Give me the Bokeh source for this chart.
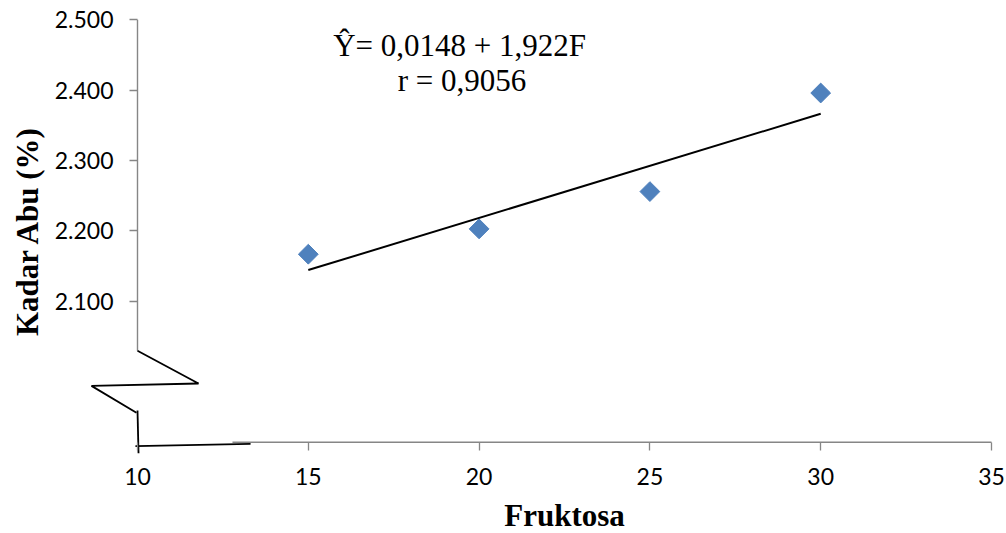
import numpy as np
from bokeh.plotting import figure
from bokeh.models import FixedTicker, NumeralTickFormatter, Label, Range1d
from bokeh.embed import file_html
from bokeh.resources import INLINE

# ---- data ----
fruktosa = [15, 20, 25, 30]
kadar_abu = [2.167, 2.203, 2.256, 2.396]
x_ticks = [10, 15, 20, 25, 30, 35]
y_ticks = [2.1, 2.2, 2.3, 2.4, 2.5]
equation_text = "Ŷ= 0,0148 + 1,922F"
r_text = "r = 0,9056"
x_title = "Fruktosa"
y_title = "Kadar Abu (%)"

# axis-break decoration (data units)
x_origin, y_origin = 10, 1.9
yaxis_top, yaxis_break = 2.5, 2.030
xaxis_break, xaxis_end = 12.78, 35
zig_x = [10.0, 11.786, 8.653, 9.97]
zig_y = [2.030, 1.9834, 1.980, 1.9418]
vert_x = [10.0, 10.03]
vert_y = [1.945, 1.8844]
horiz_x = [9.94, 13.31]
horiz_y = [1.8943, 1.8977]

AXIS = "#868686"
BLUE = "#4F81BD"

p = figure(width=1006, height=533, output_backend="svg", toolbar_location=None,
           x_range=Range1d(5.9895, 35.4391), y_range=Range1d(1.77031, 2.52741),
           min_border_left=0, min_border_right=0, min_border_top=0,
           min_border_bottom=0)
p.outline_line_color = None
p.xgrid.visible = False
p.ygrid.visible = False

for ax in (p.xaxis, p.yaxis):
    ax.axis_line_color = None
    ax.major_tick_line_color = AXIS
    ax.major_tick_line_width = 1.3
    ax.major_tick_out = 8
    ax.major_tick_in = 0
    ax.minor_tick_line_color = None
    ax.major_label_text_font = "Lato"
    ax.major_label_text_font_size = "23px"
    ax.major_label_text_color = "#000000"

p.xaxis.ticker = FixedTicker(ticks=x_ticks)
p.yaxis.ticker = FixedTicker(ticks=y_ticks)
p.yaxis.formatter = NumeralTickFormatter(format="0.000")
p.xaxis.fixed_location = y_origin
p.yaxis.fixed_location = x_origin
p.xaxis.major_label_standoff = 18
p.yaxis.major_label_standoff = 16

# axis lines
p.line([x_origin, x_origin], [yaxis_top, yaxis_break], line_color=AXIS, line_width=1.4)
p.line([xaxis_break, xaxis_end], [y_origin, y_origin], line_color=AXIS, line_width=1.4)
# break marks
p.line(zig_x, zig_y, line_color="black", line_width=1.8)
p.line(vert_x, vert_y, line_color="black", line_width=1.8)
p.line(horiz_x, horiz_y, line_color="black", line_width=1.8)

# trend line (least-squares fit of the data)
coef = np.polyfit(fruktosa, kadar_abu, 1)
tx = [min(fruktosa), max(fruktosa)]
ty = list(np.polyval(coef, tx))
p.line(tx, ty, line_color="black", line_width=2)

p.scatter(fruktosa, kadar_abu, marker="square", angle=np.pi / 4, size=14,
          fill_color=BLUE, line_color=BLUE)

p.add_layout(Label(x=19.43, y=2.4635, text=equation_text, text_align="center",
                   text_baseline="alphabetic", text_font="Liberation Serif",
                   text_font_size="31px", text_color="black"))
p.add_layout(Label(x=19.5, y=2.4138, text=r_text, text_align="center",
                   text_baseline="alphabetic", text_font="Liberation Serif",
                   text_font_size="31px", text_color="black"))
p.add_layout(Label(x=22.5, y=1.7965, text=x_title, text_align="center",
                   text_baseline="alphabetic", text_font="Liberation Serif",
                   text_font_size="31px", text_font_style="bold", text_color="black"))
p.add_layout(Label(x=6.78, y=2.2, text=y_title, angle=np.pi / 2, text_align="center",
                   text_baseline="alphabetic", text_font="Liberation Serif",
                   text_font_size="31px", text_font_style="bold", text_color="black"))

open("out.html", "w").write(file_html(p, INLINE))
